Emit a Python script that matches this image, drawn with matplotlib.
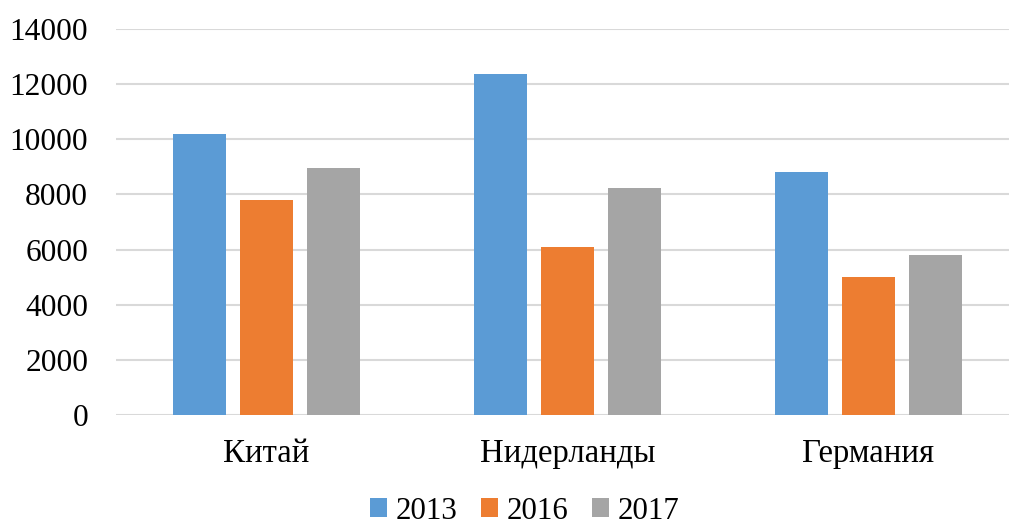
import matplotlib
matplotlib.use("Agg")
import matplotlib.pyplot as plt
import numpy as np

# data
countries = ["Китай", "Нидерланды", "Германия"]
years = ["2013", "2016", "2017"]
v2013 = [10180, 12370, 8830]
v2016 = [7790, 6100, 5020]
v2017 = [8970, 8220, 5790]
colors = ["#5B9BD5", "#ED7D31", "#A5A5A5"]

plt.rcParams['font.family'] = ['Liberation Serif', 'DejaVu Serif']

W, H = 1009, 527
fig = plt.figure(figsize=(W / 100, H / 100), dpi=100)
ax = fig.add_axes([116 / W, 112 / H, 903 / W, 386 / H])

x = np.arange(len(countries))
step = 0.2226
width = 0.176
for i, (vals, yr) in enumerate(zip([v2013, v2016, v2017], years)):
    ax.bar(x + (i - 1) * step, vals, width, color=colors[i], label=yr, zorder=3)

ax.set_xlim(-0.5, len(countries) - 0.5)
ax.set_ylim(0, 14000)
ax.set_yticks(np.arange(0, 14001, 2000))
ax.set_xticks(x)
ax.set_xticklabels(countries)
ax.tick_params(axis='both', length=0)
ax.tick_params(axis='y', pad=20, labelsize=22.6)
ax.tick_params(axis='x', pad=17, labelsize=23.6)
ax.grid(axis='y', color='#D9D9D9', linewidth=1.5, zorder=0)
for s in ax.spines.values():
    s.set_visible(False)

fig.legend(loc='center', bbox_to_anchor=(0.52, 0.03), ncol=3, frameon=False,
           fontsize=22.2, handlelength=0.55, handleheight=0.55,
           handletextpad=0.3, columnspacing=0.75)

fig.savefig("out.png", dpi=100)
